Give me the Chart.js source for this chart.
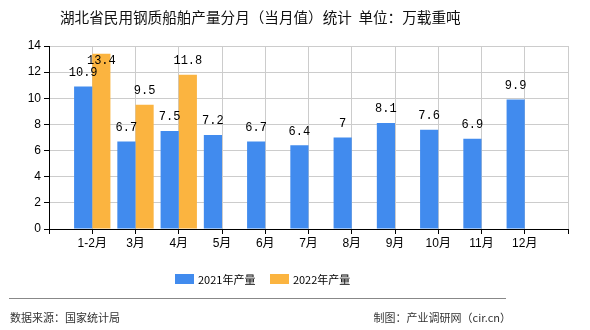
<!DOCTYPE html>
<html lang="zh">
  <head>
    <title>湖北省民用钢质船舶产量分月（当月值）统计</title>
    <meta charset="UTF-8" />
    <style>
      body { margin: 0; background: #fff; font-family: "Noto Sans CJK SC", sans-serif; }
      .wrap { position: relative; width: 590px; height: 330px; overflow: hidden; }
      #c { position: absolute; left: 0; top: 0; }
      .title { position: absolute; left: 60px; top: 6px; font-size: 14.6px; color: #111; white-space: nowrap; }
      .legend { position: absolute; top: 268px; left: 175px; font-size: 11px; color: #000; white-space: nowrap; }
      .legend span { display: inline-block; vertical-align: middle; }
      .legend .box { width: 19px; height: 10px; margin-right: 4px; }
      .legend .item { margin-right: 12px; }
      .rule { position: absolute; left: 9px; top: 298px; width: 497px; height: 0; border-top: 1px solid #888; }
      .src { position: absolute; top: 309px; font-size: 11px; color: #333; white-space: nowrap; }
    </style>
  </head>
  <body>
    <div class="wrap">
      <canvas id="c" width="590" height="330"></canvas>
      <div class="title">湖北省民用钢质船舶产量分月（当月值）统计&nbsp;&nbsp;单位：万载重吨</div>
      <div class="legend">
        <span class="item"><span class="box" style="background:#418bee"></span><span>2021年产量</span></span>
        <span class="item"><span class="box" style="background:#fbb440"></span><span>2022年产量</span></span>
      </div>
      <div class="rule"></div>
      <div class="src" style="left:10px">数据来源：国家统计局</div>
      <div class="src" style="right:79px">制图：产业调研网（cir.cn）</div>
    </div>
    <script src="https://cdn.jsdelivr.net/npm/chart.js@4"></script>
    <script>
      var months = ["1-2月", "3月", "4月", "5月", "6月", "7月", "8月", "9月", "10月", "11月", "12月"];
      var y2021 = [10.9, 6.7, 7.5, 7.2, 6.7, 6.4, 7, 8.1, 7.6, 6.9, 9.9];
      var y2022 = [13.4, 9.5, 11.8, null, null, null, null, null, null, null, null];
      var yTicks = [0, 2, 4, 6, 8, 10, 12, 14];

      // 两端各留一个空位，刻度线落在类目上
      var labels = [""].concat(months, [""]);
      function pad(arr) { return [null].concat(arr, [null]); }

      // 柱顶数值
      var valueLabels = {
        id: "valueLabels",
        afterDatasetsDraw: function (chart) {
          var ctx = chart.ctx;
          ctx.save();
          ctx.font = "12px 'Liberation Mono', monospace";
          ctx.fillStyle = "#000";
          ctx.textAlign = "center";
          ctx.textBaseline = "bottom";
          chart.data.datasets.forEach(function (ds, i) {
            chart.getDatasetMeta(i).data.forEach(function (bar, j) {
              var v = ds.data[j];
              if (v == null) return;
              var y = Math.max(bar.y - 8, chart.chartArea.top + 21);
              ctx.fillText(String(v), bar.x, y);
            });
          });
          ctx.restore();
        }
      };

      var ctx = document.getElementById("c");
      var myChart = new Chart(ctx, {
        type: "bar",
        data: {
          labels: labels,
          datasets: [
            { label: "2021年产量", data: pad(y2021), backgroundColor: "#418bee" },
            { label: "2022年产量", data: pad(y2022), backgroundColor: "#fbb440" }
          ]
        },
        options: {
          responsive: false,
          animation: false,
          layout: { padding: { left: 0, top: 46, right: 22, bottom: 0 } },
          datasets: { bar: { categoryPercentage: 0.84, barPercentage: 1 } },
          plugins: { legend: { display: false }, title: { display: false }, tooltip: { enabled: false } },
          scales: {
            x: {
              offset: false,
              grid: { color: "#cccccc", tickColor: "#000", tickLength: 5, offset: false },
              border: { color: "#000" },
              ticks: { color: "#000", font: { size: 12, family: "'Liberation Sans', 'Noto Sans CJK SC'" }, maxRotation: 0, autoSkip: false, padding: 2 },
              afterFit: function (s) { s.height = 101; }
            },
            y: {
              min: 0,
              max: 14,
              afterBuildTicks: function (s) { s.ticks = yTicks.map(function (v) { return { value: v }; }); },
              grid: { color: "#cccccc", tickColor: "#000", tickLength: 5 },
              border: { color: "#000" },
              ticks: { color: "#000", font: { size: 12, family: "'Liberation Sans', 'Noto Sans CJK SC'" }, padding: 3 },
              afterFit: function (s) { s.width = 49; }
            }
          }
        },
        plugins: [valueLabels]
      });
    </script>
  </body>
</html>
